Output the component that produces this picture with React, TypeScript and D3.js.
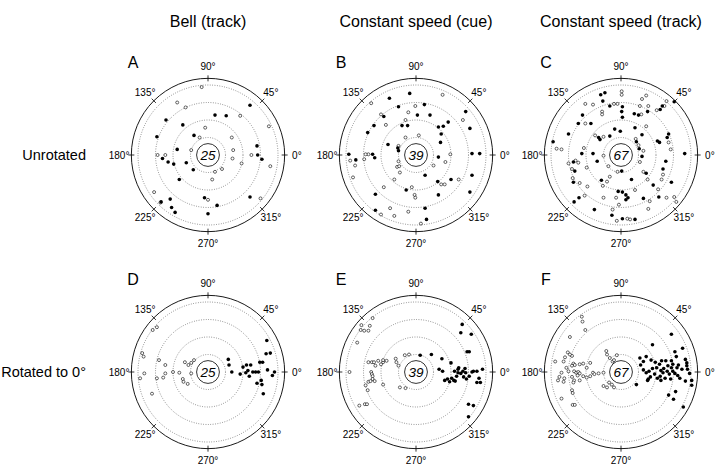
import React from 'react';
import * as d3 from 'd3';

// Column titles, row labels, panel letters, cell counts
const columnTitles = ['Bell (track)', 'Constant speed (cue)', 'Constant speed (track)'];
const rowLabels = ['Unrotated', 'Rotated to 0°'];
const panelLetters = ['A', 'B', 'C', 'D', 'E', 'F'];
const cellCounts = [25, 39, 67];
const angleTicks = [0, 45, 90, 135, 180, 225, 270, 315];
const ringLevels = [0.25, 0.5, 0.75, 1];

// Vector components [x, y] (units: outer dotted ring = 1)
const bellUnrotFilled: [number, number][] = [
  [0.60, 0.71], [0.10, 0.57], [0.26, 0.56], [-0.60, 0.50], [-0.36, 0.43], [-0.73, 0.26], [-0.20, 0.28],
  [-0.44, 0.08], [-0.65, -0.05], [-0.57, -0.10], [-0.49, -0.13], [-0.31, -0.11], [-0.21, -0.21],
  [-0.41, -0.35], [0.70, 0.13], [0.71, 0], [0.77, -0.06], [-0.05, -0.61], [-0.54, -0.63], [-0.67, -0.67],
  [-0.52, -0.75], [-0.47, -0.82], [0.13, -0.72], [0, -0.84], [0.60, -0.60],
];
const bellUnrotOpen: [number, number][] = [
  [-0.09, 0.97], [-0.44, 0.75], [-0.32, 0.68], [0.46, 0.56], [0.87, 0.41], [-0.04, 0.39], [-0.12, 0.25],
  [0.34, 0.25], [-0.24, 0.07], [0.36, 0.07], [0.35, -0.05], [0.48, -0.12], [-0.72, 0], [-0.61, 0],
  [0.62, 0], [0.89, -0.16], [0.20, -0.20], [0.10, -0.24], [0.06, -0.35], [-0.77, -0.53], [-0.68, -0.68],
  [0, -0.64], [0.75, -0.62],
];
const cueUnrotFilled: [number, number][] = [
  [-0.09, 0.88], [-0.38, 0.81], [0.12, 0.72], [-0.25, 0.69], [0.71, 0.62], [-0.46, 0.55], [0.02, 0.57],
  [0.20, 0.57], [0.46, 0.47], [-0.12, 0.42], [-0.20, 0.42], [-0.60, 0.42], [0.32, 0.40], [0.39, 0.41],
  [0.77, 0.38], [-0.69, 0.32], [0.36, 0.30], [-0.40, 0.15], [0.35, 0.18], [-0.25, 0.06], [-0.26, 0.10],
  [-0.96, 0.01], [-0.62, 0.01], [-0.59, -0.04], [-0.86, -0.07], [0.80, 0.02], [0.91, 0.02], [0.32, -0.03],
  [0.13, -0.29], [0.80, -0.29], [0.50, -0.35], [0.31, -0.38], [-0.14, -0.50], [-0.58, -0.56], [0.77, -0.53],
  [0.13, -0.76], [-0.58, -0.79], [0.15, -0.92], [0.32, -0.57],
];
const cueUnrotOpen: [number, number][] = [
  [0.38, 0.86], [-0.64, 0.74], [-0.01, 0.70], [-0.11, 0.61], [-0.50, 0.58], [-0.15, 0.50], [0.67, 0.50],
  [-0.43, 0.43], [0.04, 0.28], [-0.15, 0.25], [-0.25, 0.13], [-0.68, 0.01], [-0.72, 0.01], [-0.94, -0.08],
  [-0.87, -0.15], [-0.74, -0.06], [0.49, 0.01], [-0.25, -0.09], [-0.27, -0.17], [-0.24, -0.16],
  [-0.23, -0.25], [0.42, -0.10], [0.25, -0.15], [0.61, -0.35], [0.36, -0.42], [0.41, -0.42], [-0.31, -0.35],
  [-0.46, -0.46], [-0.06, -0.46], [-0.02, -0.57], [-0.01, -0.61], [-0.37, -0.76], [-0.50, -0.85],
  [-0.31, -0.87], [-0.11, -0.81], [0.07, -0.98], [-0.90, -0.32],
];
const trackUnrotFilled: [number, number][] = [
  [-0.29, 0.86], [-0.23, 0.89], [0.76, 0.76], [0.59, 0.70], [-0.26, 0.77], [-0.16, 0.70], [0.02, 0.69],
  [0.01, 0.62], [0.02, 0.54], [0.19, 0.59], [0.25, 0.57], [0.56, 0.65], [-0.55, 0.57], [-0.43, 0.45],
  [-0.61, 0.45], [0.20, 0.39], [-0.75, 0.30], [-0.09, 0.37], [-0.01, 0.34], [-0.32, 0.25], [-0.30, 0.22],
  [-0.16, 0.27], [0.30, 0.29], [0.68, 0.30], [0.66, 0.25], [0.22, 0.19], [0.52, 0.20], [0.55, 0.18],
  [-0.97, 0.19], [-0.56, 0.02], [-0.40, 0.02], [0.91, 0.02], [0.30, -0.02], [0.26, 0.09], [-0.68, -0.10],
  [-0.34, -0.09], [0.64, -0.09], [-0.66, -0.23], [0.01, -0.23], [0.36, -0.26], [0.60, -0.20],
  [-0.68, -0.39], [-0.28, -0.36], [0.15, -0.35], [0.72, -0.39], [0.46, -0.43], [-0.04, -0.52],
  [0.02, -0.53], [0.07, -0.57], [-0.60, -0.61], [0.10, -0.61], [0.07, -0.64], [0.32, -0.62], [0.54, -0.60],
  [-0.67, -0.67], [-0.38, -0.78], [-0.13, -0.86], [0.02, -0.91], [0.20, -0.92], [0.38, 0.62],
];
const trackUnrotOpen: [number, number][] = [
  [0.01, 0.91], [0.01, 0.86], [0.36, 0.85], [0.65, 0.77], [-0.51, 0.73], [-0.40, 0.72], [-0.10, 0.73],
  [-0.05, 0.73], [0.27, 0.70], [0.39, 0.70], [0.62, 0.70], [-0.27, 0.62], [-0.27, 0.58], [0.29, 0.58],
  [0.51, 0.64], [-0.51, 0.45], [0.36, 0.41], [-0.37, 0.28], [0.21, 0.23], [0.68, 0.18], [0.25, 0.14],
  [-0.92, 0.09], [-0.85, 0.08], [-0.25, -0.01], [0.71, 0.08], [0.32, 0.06], [-0.75, -0.12], [-0.65, -0.08],
  [-0.61, -0.11], [-0.49, -0.18], [-0.18, -0.16], [0.27, -0.10], [-0.70, -0.20], [-0.05, -0.24],
  [0.32, -0.24], [-0.69, -0.33], [-0.59, -0.40], [-0.20, -0.38], [-0.16, -0.31], [0.38, -0.35],
  [-0.26, -0.44], [-0.48, -0.45], [0.20, -0.50], [0.53, -0.49], [-0.52, -0.58], [-0.25, -0.61],
  [-0.07, -0.61], [0.65, -0.61], [0.76, -0.60], [-0.03, -0.71], [0.79, -0.67], [-0.12, -0.78],
  [0.39, -0.77], [-0.06, -0.94], [0.09, -0.91], [0.13, -0.92], [0.58, -0.35], [0.60, -0.28], [0.41, -0.66],
  [-0.25, 0.26], [0.30, 0.80], [-0.53, 0.10],
];
const bellRotFilled: [number, number][] = [
  [0.84, 0.45], [0.83, 0.26], [0.89, 0.27], [0.29, 0.18], [0.30, 0.10], [0.34, 0], [0.46, -0.03],
  [0.50, 0.07], [0.55, 0.10], [0.61, 0.10], [0.57, 0.02], [0.54, -0.01], [0.59, -0.06], [0.64, 0],
  [0.68, 0], [0.72, 0], [0.74, 0.14], [0.78, 0.14], [0.85, 0.03], [0.95, 0], [0.92, -0.05], [0.70, -0.16],
  [0.76, -0.12], [0.77, -0.18], [0.79, -0.31],
];
const bellRotOpen: [number, number][] = [
  [-0.79, 0.60], [-0.73, 0.64], [-0.94, 0.27], [-0.92, 0.22], [-0.91, -0.02], [-0.97, -0.09], [-0.70, 0.17],
  [-0.61, 0.10], [-0.61, -0.02], [-0.73, -0.09], [-0.64, -0.08], [-0.50, 0], [-0.41, -0.01], [-0.36, -0.10],
  [-0.35, -0.14], [-0.29, -0.17], [-0.24, -0.02], [-0.33, 0.14], [-0.28, 0.10], [-0.24, 0.13], [-0.20, 0.17],
  [-0.80, -0.31],
];
const cueRotFilled: [number, number][] = [
  [0.66, 0.68], [0.64, 0.56], [0.79, 0.54], [0.06, 0.24], [0.22, 0.25], [0.37, 0.19], [0.73, 0.29],
  [0.76, 0.29], [0.50, 0.13], [0.33, 0.04], [0.38, 0.01], [0.41, -0.12], [0.45, -0.10], [0.48, -0.14],
  [0.51, -0.09], [0.54, -0.12], [0.55, 0.01], [0.60, 0.04], [0.60, -0.01], [0.61, 0.06], [0.64, -0.02],
  [0.67, 0.01], [0.70, 0.05], [0.71, -0.01], [0.68, -0.07], [0.76, -0.06], [0.80, 0], [0.82, 0.01],
  [0.87, 0.01], [0.95, 0.04], [0.90, -0.09], [0.87, -0.15], [0.92, -0.15], [0.75, -0.46], [0.82, -0.48],
  [0.75, -0.64], [0.56, -0.13], [0.72, -0.10], [0.58, -0.06],
];
const cueRotOpen: [number, number][] = [
  [-0.78, 0.67], [-0.79, 0.60], [-0.74, 0.59], [-0.68, 0.59], [-0.66, 0.66], [-0.84, 0.42], [-0.68, 0.14],
  [-0.63, 0.14], [-0.60, 0.14], [-0.54, 0.16], [-0.47, 0.14], [-0.42, 0.16], [-0.58, 0.09], [-0.50, 0.11],
  [-0.29, 0.19], [-0.28, 0.14], [-0.25, 0.09], [-0.16, 0.24], [-0.10, 0.25], [-0.64, 0], [-0.63, -0.03],
  [-0.62, -0.06], [-0.62, -0.10], [-0.59, -0.13], [-0.68, -0.14], [-0.72, -0.19], [-0.65, -0.13],
  [-0.95, 0], [-0.69, -0.26], [-0.47, -0.18], [-0.23, -0.22], [-0.15, -0.23], [-0.81, -0.48],
  [-0.73, -0.46], [-0.70, -0.46], [-0.62, 0.77], [-0.47, 0.17],
];
const trackRotFilled: [number, number][] = [
  [0.72, 0.54], [0.45, 0.39], [0.77, 0.29], [0.88, 0.34], [0.79, 0.22], [0.27, 0.20], [0.36, 0.22],
  [0.43, 0.17], [0.49, 0.14], [0.58, 0.16], [0.64, 0.16], [0.72, 0.16], [0.74, 0.11], [0.82, 0.10],
  [0.80, 0.06], [0.92, 0.18], [0.95, 0.04], [0.94, 0.09], [0.98, -0.02], [1.01, -0.12], [0.92, -0.13],
  [0.84, -0.09], [0.71, -0.10], [0.66, 0.01], [0.69, -0.03], [0.60, -0.01], [0.57, 0.02], [0.61, 0.05],
  [0.56, -0.06], [0.52, -0.09], [0.48, -0.03], [0.42, -0.07], [0.39, -0.10], [0.36, -0.01], [0.32, 0.03],
  [0.40, 0.01], [0.45, 0.05], [0.38, -0.12], [0.22, -0.18], [0.68, -0.33], [0.75, -0.39], [0.89, -0.50],
  [1.01, -0.19], [0.78, -0.28], [0.32, 0.15], [0.28, 0.10], [0.74, 0.01], [0.77, -0.02], [0.81, -0.05],
  [0.87, 0.04], [0.55, 0.11], [0.51, 0.06], [0.94, 0.13], [0.63, -0.09], [0.57, -0.12], [0.72, 0.06],
  [0.67, 0.09],
];
const trackRotOpen: [number, number][] = [
  [-0.56, 0.79], [-0.55, 0.72], [-0.51, 0.60], [-0.76, 0.28], [-0.70, 0.23], [-0.94, 0.15], [-0.82, 0.15],
  [-0.80, 0.21], [-0.68, 0.12], [-0.70, 0.09], [-0.66, 0.10], [-0.59, 0.11], [-0.54, 0.12], [-0.44, 0.13],
  [-0.67, 0.01], [-0.64, -0.01], [-0.61, 0], [-0.59, -0.02], [-0.62, -0.05], [-0.70, -0.07], [-0.67, -0.12],
  [-0.68, -0.15], [-0.85, -0.01], [-0.88, -0.07], [-0.90, -0.12], [-0.81, -0.09], [-0.82, -0.14],
  [-0.59, -0.12], [-0.54, -0.06], [-0.49, -0.08], [-0.44, -0.06], [-0.40, -0.01], [-0.38, -0.03],
  [-0.32, -0.02], [-0.25, -0.01], [-0.21, 0.30], [-0.20, 0.25], [-0.16, 0.20], [-0.12, 0.15], [-0.10, 0.17],
  [-0.06, 0.24], [-0.25, -0.20], [-0.20, -0.22], [-0.17, -0.15], [-0.13, -0.18], [-0.10, -0.22],
  [-0.70, -0.26], [-0.69, -0.30], [-0.69, -0.47], [-0.66, -0.47], [-0.85, -0.38], [-0.49, 0.06],
  [-0.75, 0.01], [-0.78, 0.06], [-0.73, 0.25], [-0.73, 0.50],
];

const panelFilled = [bellUnrotFilled, cueUnrotFilled, trackUnrotFilled, bellRotFilled, cueRotFilled, trackRotFilled];
const panelOpen = [bellUnrotOpen, cueUnrotOpen, trackUnrotOpen, bellRotOpen, cueRotOpen, trackRotOpen];

// layout
const W = 720;
const H = 466;
const colX = [208, 416, 621];
const rowY = [155, 372];
const RING_PX = 70;
const OUTER = 1.095;
const NUM_RING = 0.163;
const LABEL_DIST = 1.27;
const FONT = 'Liberation Sans, Arial, Helvetica, sans-serif';

function Panel({ idx }: { idx: number }) {
  const col = idx % 3;
  const row = Math.floor(idx / 3);
  const cx = colX[col];
  const cy = rowY[row];
  const r = d3.scaleLinear().domain([0, 1]).range([0, RING_PX]);
  const x = d3.scaleLinear().domain([-1, 1]).range([cx - RING_PX, cx + RING_PX]);
  const y = d3.scaleLinear().domain([-1, 1]).range([cy + RING_PX, cy - RING_PX]);
  const R = r(OUTER);
  const rad = (a: number) => (a * Math.PI) / 180;
  return (
    <g>
      {ringLevels.map((lv) => (
        <circle key={lv} cx={cx} cy={cy} r={r(lv)} fill="none" stroke="#444" strokeWidth={0.7} strokeDasharray="0.8,1.6" />
      ))}
      <circle cx={cx} cy={cy} r={R} fill="none" stroke="#000" strokeWidth={0.9} />
      <circle cx={cx} cy={cy} r={r(NUM_RING)} fill="#fff" stroke="#000" strokeWidth={0.8} />
      {angleTicks.map((a) => (
        <line
          key={a}
          x1={cx + (R - 3) * Math.cos(rad(a))}
          y1={cy - (R - 3) * Math.sin(rad(a))}
          x2={cx + (R + 3) * Math.cos(rad(a))}
          y2={cy - (R + 3) * Math.sin(rad(a))}
          stroke="#000"
          strokeWidth={0.8}
        />
      ))}
      {angleTicks.map((a) => (
        <text
          key={'l' + a}
          x={cx + r(LABEL_DIST) * Math.cos(rad(a))}
          y={cy - r(LABEL_DIST) * Math.sin(rad(a))}
          textAnchor="middle"
          dominantBaseline="central"
          fontSize={10}
          fontFamily={FONT}
        >
          {a}°
        </text>
      ))}
      {panelOpen[idx].map((p, i) => (
        <circle key={'o' + i} cx={x(p[0])} cy={y(p[1])} r={1.5} fill="#fff" stroke="#000" strokeWidth={0.6} />
      ))}
      {panelFilled[idx].map((p, i) => (
        <circle key={'f' + i} cx={x(p[0])} cy={y(p[1])} r={1.8} fill="#000" />
      ))}
      <text x={cx} y={cy} textAnchor="middle" dominantBaseline="central" fontSize={13.5} fontStyle="italic" fontFamily={FONT}>
        {cellCounts[col]}
      </text>
      <text x={cx - 75} y={cy - 87} textAnchor="middle" fontSize={16} fontFamily={FONT}>
        {panelLetters[idx]}
      </text>
    </g>
  );
}

export default function App() {
  return (
    <svg width={W} height={H} style={{ position: 'absolute', left: 0, top: 0, background: '#fff' }}>
      <rect width={W} height={H} fill="#fff" />
      {columnTitles.map((t, i) => (
        <text key={t} x={colX[i]} y={27} textAnchor="middle" fontSize={16} fontFamily={FONT}>
          {t}
        </text>
      ))}
      {rowLabels.map((t, i) => (
        <text key={t} x={86} y={rowY[i]} textAnchor="end" dominantBaseline="central" fontSize={14.5} fontFamily={FONT}>
          {t}
        </text>
      ))}
      {[0, 1, 2, 3, 4, 5].map((i) => (
        <Panel key={i} idx={i} />
      ))}
    </svg>
  );
}
